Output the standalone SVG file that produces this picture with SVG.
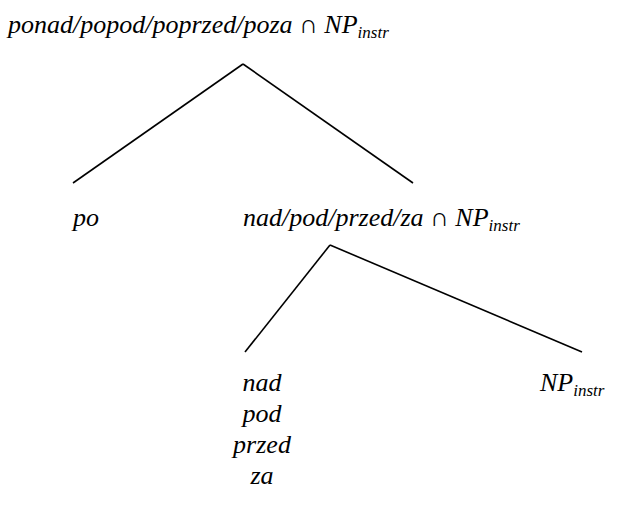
<svg xmlns="http://www.w3.org/2000/svg" width="623" height="505" viewBox="0 0 623 505">
<rect width="623" height="505" fill="#fff"/>
<g id="connectors" stroke="#000" stroke-width="1.6">
<line x1="243" y1="64" x2="73" y2="183"/>
<line x1="243" y1="64" x2="413" y2="183"/>
<line x1="330" y1="245" x2="245" y2="352"/>
<line x1="330" y1="245" x2="582" y2="352"/>
</g>
<g font-family="Liberation Serif" font-size="26" font-style="italic" fill="#000">
<g id="root"><text x="8" y="33">ponad/popod/poprzed/poza <tspan font-style="normal">∩</tspan> NP<tspan font-size="17" dy="5">instr</tspan></text></g>
<g id="po"><text x="73" y="226">po</text></g>
<g id="mid"><text x="243" y="226">nad/pod/przed/za <tspan font-style="normal">∩</tspan> NP<tspan font-size="17" dy="5">instr</tspan></text></g>
<g id="leaf1" text-anchor="middle"><text x="262" y="391">nad</text><text x="262" y="422">pod</text><text x="262" y="453">przed</text><text x="262" y="484">za</text></g>
<g id="leaf2"><text x="540" y="391">NP<tspan font-size="17" dy="5">instr</tspan></text></g>
</g>
</svg>
